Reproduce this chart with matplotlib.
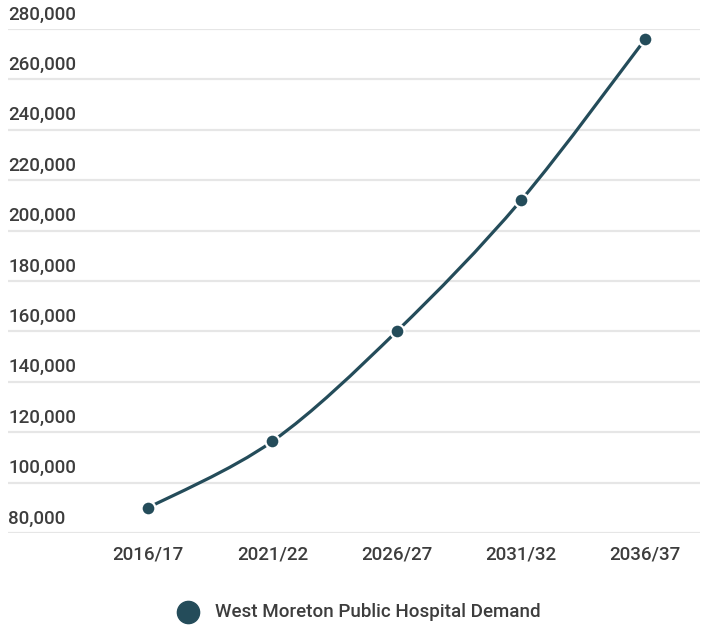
import matplotlib
matplotlib.use('Agg')
import matplotlib.pyplot as plt
from matplotlib.path import Path
from matplotlib.patches import PathPatch
from matplotlib.lines import Line2D

# Data
years = ['2016/17', '2021/22', '2026/27', '2031/32', '2036/37']
demand = [90000, 116400, 160000, 212000, 276000]
y_ticks = [80000, 100000, 120000, 140000, 160000, 180000, 200000,
           220000, 240000, 260000, 280000]
series_name = 'West Moreton Public Hospital Demand'

line_color = '#244c5a'
text_color = '#3d3d3d'
grid_color = '#e6e6e6'

plt.rcParams['font.family'] = ['Roboto', 'DejaVu Sans']

W, H = 701, 625
fig = plt.figure(figsize=(W / 100, H / 100), dpi=100)
ax = fig.add_axes([8 / W, (H - 533) / H, 692 / W, (533 - 29) / H])

xs = list(range(len(years)))

# Smooth curve through the points as cubic Bezier segments (Catmull-Rom style)
verts = [(xs[0], demand[0])]
codes = [Path.MOVETO]
n = len(xs)
for i in range(n - 1):
    x0, y0 = xs[max(i - 1, 0)], demand[max(i - 1, 0)]
    x1, y1 = xs[i], demand[i]
    x2, y2 = xs[i + 1], demand[i + 1]
    x3, y3 = xs[min(i + 2, n - 1)], demand[min(i + 2, n - 1)]
    c1 = (x1 + (x2 - x0) / 6, y1 + (y2 - y0) / 6)
    c2 = (x2 - (x3 - x1) / 6, y2 - (y3 - y1) / 6)
    verts += [c1, c2, (x2, y2)]
    codes += [Path.CURVE4, Path.CURVE4, Path.CURVE4]
curve = PathPatch(Path(verts, codes), facecolor='none', edgecolor=line_color,
                  lw=2.3, clip_on=False, zorder=3, capstyle='round')
ax.add_patch(curve)

ax.plot(xs, demand, linestyle='none', marker='o', markersize=10,
        markerfacecolor=line_color, markeredgecolor='white',
        markeredgewidth=1.6, clip_on=False, zorder=4)

ax.set_xlim(-1.127, 4.44)
ax.set_ylim(80000, 280000)

# Horizontal grid lines with labels sitting above them
for v in y_ticks:
    ax.axhline(v, color=grid_color, lw=1.6, zorder=1)
    ax.annotate(f'{v:,}', xy=(0, v), xycoords=('axes fraction', 'data'),
                xytext=(0, 4), textcoords='offset points',
                ha='left', va='bottom', fontsize=13.5, color=text_color,
                fontweight='medium')

ax.set_yticks([])
ax.set_xticks(xs)
ax.set_xticklabels(years, fontsize=13.5, color=text_color, fontweight='medium')
ax.tick_params(axis='x', length=0, pad=9)
for s in ax.spines.values():
    s.set_visible(False)

# Legend drawn in figure coordinates
fig.add_artist(Line2D([188 / W], [1 - 612 / H], transform=fig.transFigure,
                      marker='o', markersize=16, color=line_color,
                      linestyle='none'))
fig.text(215 / W, 1 - 612 / H, series_name, ha='left', va='center',
         fontsize=13.5, color=text_color, fontweight='medium')

fig.savefig('out.png', dpi=100)
